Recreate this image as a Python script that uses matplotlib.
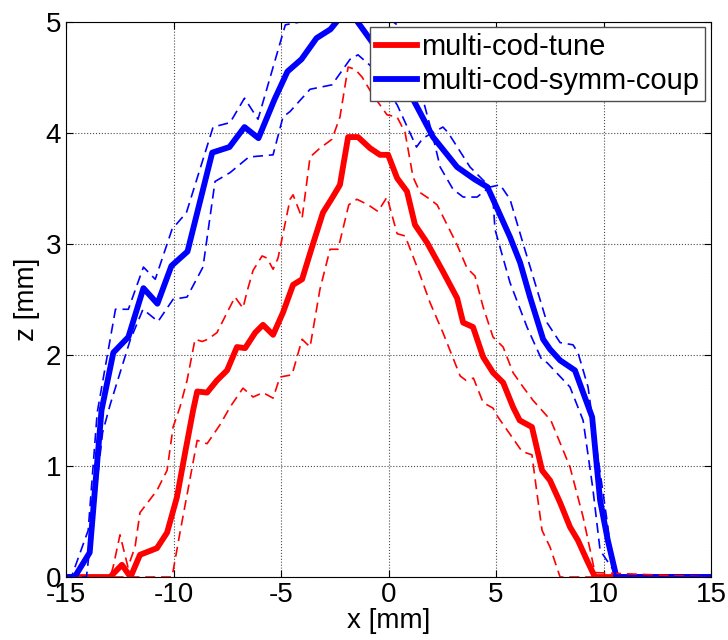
import matplotlib
matplotlib.use("Agg")
import matplotlib.pyplot as plt

plt.rcParams['font.family'] = ['Liberation Sans', 'DejaVu Sans']
plt.rcParams['axes.unicode_minus'] = False

# multi-cod-tune (red)
tune_x = [-15, -12.95, -12.4, -12.0, -11.56, -10.77, -10.3, -9.84, -9.47, -9.09, -8.9, -8.44,
          -7.98, -7.51, -7.05, -6.67, -6.2, -5.84, -5.37, -4.91, -4.44, -4.02, -3.56, -3.05,
          -2.63, -2.26, -1.88, -1.42, -0.86, -0.4, -0.02, 0.4, 0.86, 1.23, 1.79, 2.53, 3.19,
          3.47, 3.93, 4.4, 4.86, 5.33, 5.79, 6.1, 6.67, 7.14, 7.51, 7.98, 8.44, 8.81, 9.23,
          9.6, 15]
tune_z = [0, 0, 0.11, 0, 0.2, 0.26, 0.4, 0.72, 1.11, 1.5, 1.67, 1.66,
          1.77, 1.86, 2.07, 2.06, 2.2, 2.27, 2.18, 2.38, 2.63, 2.68, 2.97, 3.28,
          3.41, 3.53, 3.96, 3.96, 3.86, 3.80, 3.80, 3.59, 3.47, 3.17, 3.01, 2.75, 2.51,
          2.29, 2.25, 1.98, 1.84, 1.75, 1.53, 1.41, 1.35, 0.96, 0.87, 0.67, 0.45, 0.33, 0.15,
          0, 0]

tune_hi_x = [-15, -12.95, -12.81, -12.49, -12.12, -11.79, -11.56, -10.77, -10.3, -10.02, -9.7,
             -9.37, -9.0, -8.67, -8.4, -7.98, -7.51, -7.14, -6.77, -6.58, -6.3, -5.88, -5.65,
             -5.37, -5.14, -4.58, -4.44, -4.02, -3.65, -3.19, -2.63, -2.26, -1.88, -1.56,
             -1.23, -0.77, -0.07, 0.4, 0.77, 1.14, 1.47, 1.93, 2.26, 3.19, 3.65, 4.02, 4.4,
             4.86, 5.33, 5.79, 6.26, 6.72, 7.55, 8.44, 9.05, 9.6, 15]
tune_hi_z = [0, 0, 0.09, 0.38, 0.09, 0.27, 0.58, 0.78, 0.96, 1.35, 1.53,
             1.77, 2.14, 2.12, 2.14, 2.2, 2.38, 2.52, 2.42, 2.57, 2.76, 2.89, 2.87,
             2.77, 2.87, 3.4, 3.44, 3.23, 3.78, 3.86, 3.94, 4.14, 4.59, 4.57,
             4.5, 4.35, 4.16, 4.14, 4.0, 3.6, 3.46, 3.40, 3.35, 2.99, 2.78, 2.71, 2.43,
             2.16, 2.07, 1.84, 1.71, 1.59, 1.41, 0.99, 0.54, 0.04, 0]

tune_lo_x = [-15, -10.07, -9.7, -8.9, -8.44, -7.84, -7.37, -6.77, -6.3, -5.84, -5.37, -5.05,
             -4.49, -4.02, -3.65, -3.19, -2.72, -2.35, -1.85, -1.47, -0.95, -0.49, -0.07,
             0.4, 0.77, 1.37, 1.93, 2.53, 3.33, 3.6, 3.95, 4.4, 4.86, 5.09, 6.21, 6.67, 6.9,
             7.14, 7.51, 7.98, 15]
tune_lo_z = [0, 0, 0.4, 1.23, 1.2, 1.37, 1.53, 1.70, 1.62, 1.66, 1.61, 1.80,
             1.82, 2.14, 2.07, 2.59, 2.95, 2.95, 3.35, 3.40, 3.35, 3.29, 3.42,
             3.09, 3.07, 2.77, 2.47, 2.2, 1.81, 1.77, 1.79, 1.57, 1.52, 1.44, 1.13, 1.1, 0.76,
             0.42, 0.27, 0.0, 0]

# multi-cod-symm-coup (blue)
symm_x = [-15, -14.6, -13.9, -13.35, -12.8, -12.1, -11.4, -10.75, -10.1, -9.35, -8.2, -7.4,
          -6.7, -6.05, -5.3, -4.7, -4.05, -3.35, -2.7, -1.9, -0.86, 1.14, 2.07, 3.19, 4.0,
          4.6, 4.86, 5.65, 6.12, 6.58, 7.19, 7.51, 7.98, 8.67, 9.47, 9.84, 10.2, 10.6, 15]
symm_z = [0, 0, 0.22, 1.5, 2.02, 2.16, 2.6, 2.46, 2.8, 2.93, 3.82, 3.87,
          4.05, 3.95, 4.3, 4.55, 4.66, 4.85, 4.93, 5.12, 4.84, 4.30, 3.96, 3.69, 3.58,
          3.51, 3.40, 3.06, 2.83, 2.52, 2.14, 2.05, 1.95, 1.86, 1.44, 0.69, 0.33, 0, 0]

symm_a_x = [-15, -14.75, -13.97, -13.55, -12.7, -12.1, -11.4, -10.85, -10.07, -9.4, -8.16,
            -7.37, -6.7, -6.07, -4.8, -4.0, -1.8, 0.4, 1.6, 2.07, 2.4, 3.0, 3.47, 4.12, 4.63,
            4.86, 4.95, 5.65, 6.44, 7.14, 7.37, 8.44, 9.05, 9.5, 9.84, 10.4, 10.6, 15]
symm_a_z = [0, 0, 0.42, 1.48, 2.41, 2.41, 2.79, 2.68, 3.13, 3.28, 4.05,
            4.09, 4.31, 4.12, 4.97, 5.0, 5.3, 4.97, 4.3, 3.96, 3.69, 3.49, 3.42, 3.42, 3.50,
            3.40, 3.13, 2.65, 2.25, 1.95, 1.93, 1.71, 1.41, 0.8, 0.24, 0.08, 0, 0]

symm_b_x = [-15, -14.05, -13.3, -12.95, -12.02, -11.42, -10.72, -10.02, -9.37, -8.63, -8.07,
            -7.37, -6.5, -5.37, -4.91, -4.58, -3.65, -2.63, -1.79, -1.42, -0.77, 0.4, 1.3,
            1.6, 2.53, 2.77, 3.79, 4.72, 5.19, 5.65, 6.26, 7.37, 7.98, 8.58, 8.81, 9.28, 9.47,
            10.16, 10.45, 10.6, 15]
symm_b_z = [0, 0, 1.3, 1.55, 2.13, 2.41, 2.30, 2.5, 2.52, 2.79, 3.56,
            3.64, 3.78, 3.80, 4.14, 4.19, 4.39, 4.43, 4.66, 4.70, 4.59, 4.25, 3.87,
            3.95, 4.05, 4.0, 3.69, 3.51, 3.53, 3.40, 3.0, 2.29, 2.11, 2.09, 2.02, 1.71, 1.44,
            0.51, 0.09, 0, 0]

fig = plt.figure(figsize=(7.28, 6.4), dpi=100)
ax = fig.add_axes([0.0907, 0.0984, 0.886, 0.868])

dash = (6, 3.5)
ax.plot(tune_x, tune_z, color='red', lw=4.2, label='multi-cod-tune')
ax.plot(symm_x, symm_z, color='blue', lw=4.2, label='multi-cod-symm-coup')
ax.plot(tune_hi_x, tune_hi_z, '--', color='red', lw=1.2, dashes=dash)
ax.plot(tune_lo_x, tune_lo_z, '--', color='red', lw=1.2, dashes=dash)
ax.plot(symm_a_x, symm_a_z, '--', color='blue', lw=1.2, dashes=dash)
ax.plot(symm_b_x, symm_b_z, '--', color='blue', lw=1.2, dashes=dash)

ax.set_xlim(-15, 15)
ax.set_ylim(0, 5)
ax.set_xticks([-15, -10, -5, 0, 5, 10, 15])
ax.set_yticks([0, 1, 2, 3, 4, 5])
ax.tick_params(direction='in', top=True, right=True, labelsize=20, length=5)
ax.grid(True, linestyle=':', color='0.3', linewidth=0.8)
ax.set_xlabel('x [mm]', fontsize=20, labelpad=0)
ax.set_ylabel('z [mm]', fontsize=20, labelpad=4)

leg = ax.legend(loc='upper right', fontsize=21, handlelength=1.4, handletextpad=0.15,
                borderpad=0.2, labelspacing=0.2, borderaxespad=0.2, fancybox=False,
                framealpha=1)
leg.get_frame().set_edgecolor('0.3')

fig.savefig('out.png', dpi=100)
